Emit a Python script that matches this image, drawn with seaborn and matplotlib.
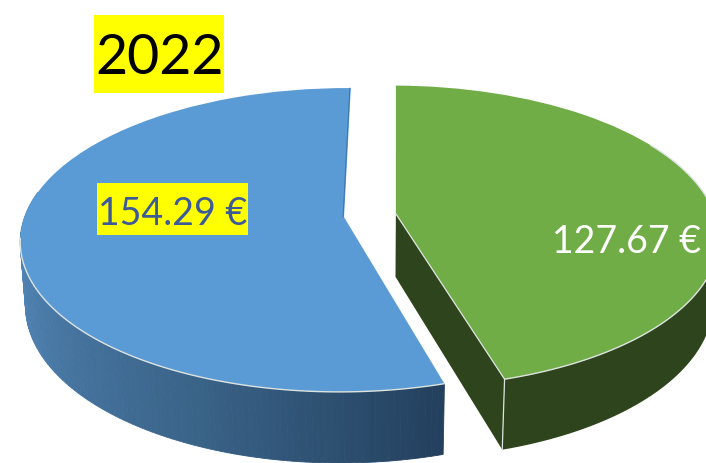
import numpy as np
import matplotlib
matplotlib.use("Agg")
import matplotlib.pyplot as plt
from matplotlib.patches import Rectangle
from matplotlib.transforms import Transform
import seaborn as sns

# chart data
categories = ["Blue", "Green"]
values = [154.29, 127.67]
value_labels = ["154.29 €", "127.67 €"]
chart_title = "2022"

# look of the fake 3D pie
top_colors = ["#5B9BD5", "#70AD47"]
explode = [0.082, 0.082]
CX, CY = 370.0, 216.5
RX, RY = 319.0, 148.0
TILT = 0.15
DEPTH = 64.0
SHRINK = 0.015
RIM = "#DDE3E0"


class Tilted(Transform):
    """Puts the flat pie on a tilted plane, z is the distance under the top face."""
    input_dims = 2
    output_dims = 2

    def __init__(self, z=0.0):
        super().__init__()
        self.z = z

    def transform_non_affine(self, xy):
        xy = np.asarray(xy)
        w = 1 + TILT * xy[:, 1] + SHRINK * self.z
        return np.column_stack([
            CX + RX * xy[:, 0] / w,
            CY + (-RY * xy[:, 1] + DEPTH * self.z) / w,
        ])


def rim_points(wedge, a, b, n=80):
    t = np.radians(np.linspace(a, b, n))
    return np.column_stack([wedge.center[0] + wedge.r * np.cos(t),
                            wedge.center[1] + wedge.r * np.sin(t)])


sns.set_theme(style="white")
plt.rcParams["font.family"] = ["Lato", "DejaVu Sans"]

fig = plt.figure(figsize=(7.06, 4.64), dpi=100)
ax = fig.add_axes([0, 0, 1, 1])

wedges, _ = ax.pie(values, colors=top_colors, explode=explode, startangle=89.3,
                   wedgeprops={"linewidth": 0, "zorder": 5})
ax.set_aspect("auto")
ax.set_xlim(0, 706)
ax.set_ylim(464, 0)
ax.axis("off")

top = Tilted(0.0)
bottom = Tilted(1.0)
for w in wedges:
    w.set_transform(top + ax.transData)

blue, green = wedges

# outer wall of the blue slice, shaded left to right
rim = rim_points(blue, 170, blue.theta2, 120)
upper, lower = top.transform(rim), bottom.transform(rim)
shades = sns.blend_palette(["#5A93C8", "#4A7BA8", "#3A6388", "#23405E"], len(rim) - 1)
for i, shade in enumerate(shades):
    ax.fill([upper[i, 0], upper[i + 1, 0], lower[i + 1, 0], lower[i, 0]],
            [upper[i, 1], upper[i + 1, 1], lower[i + 1, 1], lower[i, 1]],
            color=shade, lw=0.6, zorder=2)

# green walls: the cut face and the outer rim (theta2 of green runs past 360)
rim = rim_points(green, green.theta1, 390)
upper, lower = top.transform(rim), bottom.transform(rim)
ax.fill(np.r_[upper[:, 0], lower[::-1, 0]], np.r_[upper[:, 1], lower[::-1, 1]],
        color="#2D441C", lw=0, zorder=2)
cut = np.array([green.center, rim[0]])
cut_top, cut_bottom = top.transform(cut), bottom.transform(cut)
ax.fill(np.r_[cut_top[:, 0], cut_bottom[::-1, 0]], np.r_[cut_top[:, 1], cut_bottom[::-1, 1]],
        color="#2D441C", lw=0, zorder=2)

# pale edges around the top faces
for w, a, b in [(blue, 188, blue.theta2), (green, green.theta1, 390)]:
    edge = top.transform(rim_points(w, a, b))
    ax.plot(edge[:, 0], edge[:, 1], color=RIM, lw=1.0, zorder=6)
corner_top = top.transform(rim_points(green, green.theta1, green.theta1, 1))
corner_bottom = bottom.transform(rim_points(green, green.theta1, green.theta1, 1))
ax.plot([corner_top[0, 0], corner_bottom[0, 0]], [corner_top[0, 1], corner_bottom[0, 1]],
        color=RIM, lw=0.9, zorder=6)
ax.plot(cut_top[:, 0], cut_top[:, 1], color=RIM, lw=0.9, zorder=6)

# thin sliver on the blue cut near the top
sliver = top.transform(np.array([blue.center, rim_points(blue, blue.theta1, blue.theta1, 1)[0]]))
ax.plot(sliver[:, 0] - 1, sliver[:, 1], color="#3F74A8", lw=0.7, zorder=6)

# highlighted texts
ax.add_patch(Rectangle((94, 16), 130, 78, color="#FFFF00", lw=0, zorder=7))
ax.text(160, 59, chart_title, color="black", fontsize=40, ha="center", va="center", zorder=8)
ax.add_patch(Rectangle((97, 184), 151, 52, color="#FFFF00", lw=0, zorder=7))
ax.text(173, 214, value_labels[0], color="#3B5A9B", fontsize=27, ha="center", va="center", zorder=8)
ax.text(626, 242, value_labels[1], color="white", fontsize=27, ha="center", va="center", zorder=8)

fig.savefig("out.png", dpi=100, facecolor="white")
